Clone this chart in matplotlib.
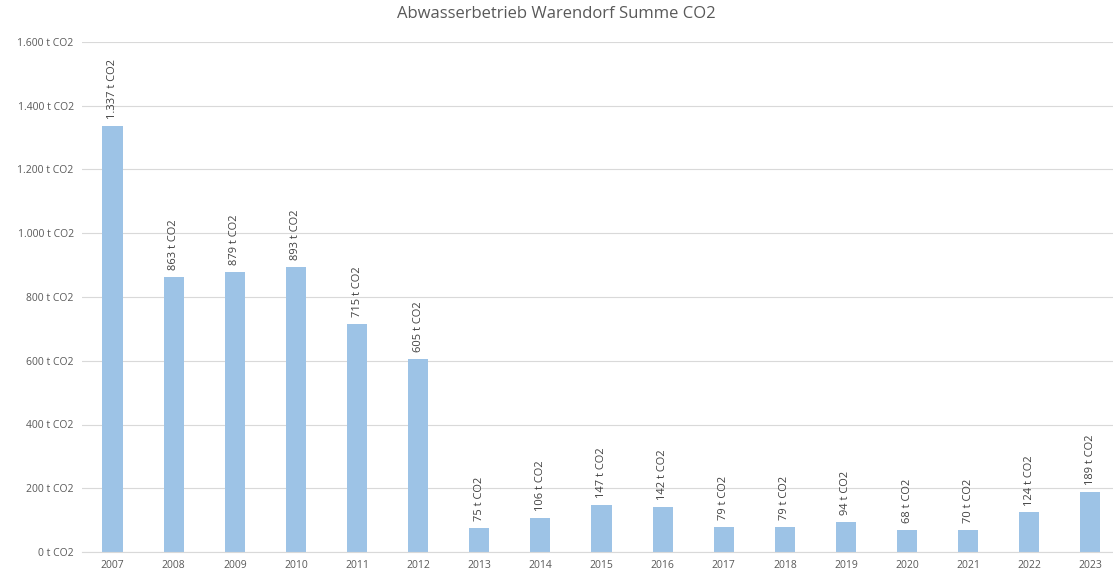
import matplotlib
matplotlib.use("Agg")
import matplotlib.pyplot as plt
from matplotlib.ticker import FuncFormatter

years = ["2007", "2008", "2009", "2010", "2011", "2012", "2013", "2014", "2015",
         "2016", "2017", "2018", "2019", "2020", "2021", "2022", "2023"]
values = [1337, 863, 879, 893, 715, 605, 75, 106, 147, 142, 79, 79, 94, 68, 70, 124, 189]
title = "Abwasserbetrieb Warendorf Summe CO2"

def fmt(v):
    return f"{int(v):,}".replace(",", ".") + " t CO2"

plt.rcParams['font.family'] = ['Open Sans', 'DejaVu Sans']
gray = "#595959"

fig = plt.figure(figsize=(11.13, 5.81), dpi=100)
ax = fig.add_axes([82/1113, 29/581, (1113-82)/1113, 510/581])
x = list(range(len(years)))
ax.bar(x, values, width=0.33, color="#9DC3E6", zorder=2)
for xi, v in zip(x, values):
    ax.annotate(fmt(v), (xi, v), xytext=(0, 5), textcoords="offset points",
                rotation=90, ha="center", va="bottom", fontsize=8, color="#404040")

ax.set_ylim(0, 1600)
ax.set_xlim(-0.5, 16.37)
ax.set_yticks(range(0, 1601, 200))
ax.yaxis.set_major_formatter(FuncFormatter(lambda v, p: fmt(v)))
ax.set_xticks(x)
ax.set_xticklabels(years)
ax.grid(axis="y", color="#D9D9D9", linewidth=0.8, zorder=0)
for s in ["top", "right", "left"]:
    ax.spines[s].set_visible(False)
ax.spines["bottom"].set_color("#D9D9D9")
ax.tick_params(axis="y", length=0, labelsize=7.5, colors=gray, pad=6)
ax.tick_params(axis="x", length=0, labelsize=7.5, colors=gray, pad=6)
fig.text(0.5, 1 - 14/581, title, ha="center", va="center", fontsize=12, color=gray)
fig.savefig("out.png", dpi=100)
